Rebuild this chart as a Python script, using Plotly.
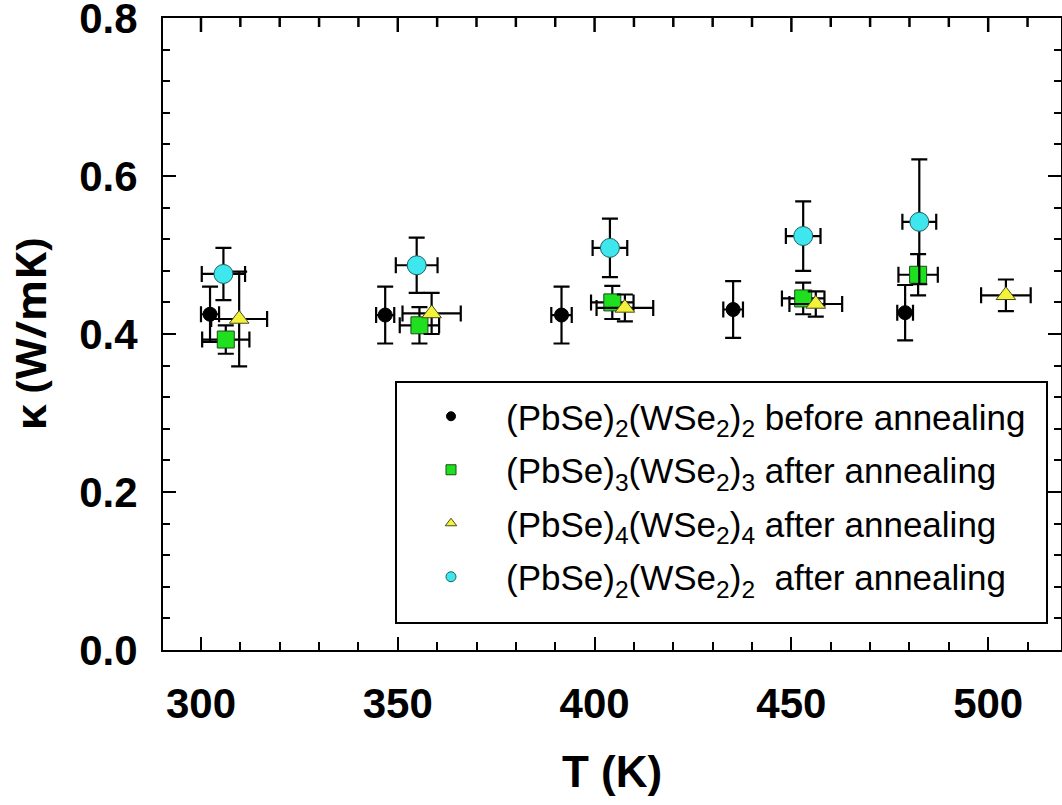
import plotly.graph_objects as go

# ---- data ----
black_T = [302.3, 346.8, 391.6, 435.2, 478.9]
black_k = [0.425, 0.424, 0.424, 0.431, 0.427]
black_dk = [0.035, 0.036, 0.036, 0.036, 0.035]
black_dT = [2.3, 2.3, 2.6, 2.5, 2.0]

green_T = [306.3, 355.5, 404.5, 453.0, 482.2]
green_k = [0.393, 0.411, 0.440, 0.445, 0.475]
green_dk = [0.018, 0.023, 0.021, 0.020, 0.026]
green_dT = [6.0, 5.0, 5.4, 5.4, 5.0]

yellow_T = [309.7, 358.6, 407.7, 456.2, 504.5]
yellow_k = [0.419, 0.426, 0.433, 0.438, 0.449]
yellow_dk = [0.060, 0.026, 0.017, 0.016, 0.020]
yellow_dT = [7.1, 7.4, 7.2, 6.7, 6.3]

cyan_T = [305.7, 354.8, 403.9, 453.0, 482.5]
cyan_k = [0.476, 0.487, 0.509, 0.524, 0.542]
cyan_dk = [0.033, 0.035, 0.037, 0.044, 0.079]
cyan_dT = [5.5, 5.3, 4.4, 4.4, 4.3]

names = [
    "(PbSe)<sub>2</sub>(WSe<sub>2</sub>)<sub>2</sub> before annealing",
    "(PbSe)<sub>3</sub>(WSe<sub>2</sub>)<sub>3</sub> after annealing",
    "(PbSe)<sub>4</sub>(WSe<sub>2</sub>)<sub>4</sub> after annealing",
    "(PbSe)<sub>2</sub>(WSe<sub>2</sub>)<sub>2</sub>  after annealing",
]
x_ticks = [300, 350, 400, 450, 500]
y_ticks = [0.0, 0.2, 0.4, 0.6, 0.8]
x_range = [290.35, 518.5]

series = [
    (black_T, black_k, black_dT, black_dk, "circle", 14, "#000000", "#000000"),
    (green_T, green_k, green_dT, green_dk, "square", 17, "#1ee01e", "#1a4a1a"),
    (yellow_T, yellow_k, yellow_dT, yellow_dk, "triangle-up", 17, "#f2f23a", "#4a4a20"),
    (cyan_T, cyan_k, cyan_dT, cyan_dk, "circle", 19, "#3ee6ee", "#206060"),
]
legend_sizes = [9, 10, 10, 10]

fig = go.Figure()
for i, (T, k, dT, dk, sym, sz, col, lcol) in enumerate(series):
    fig.add_trace(go.Scatter(
        x=T, y=k, mode="markers", showlegend=False,
        marker=dict(symbol=sym, size=sz, color=col, line=dict(color=lcol, width=1)),
        error_y=dict(type="data", array=dk, visible=True, color="black", thickness=2.2, width=8),
        error_x=dict(type="data", array=dT, visible=True, color="black", thickness=2.2, width=8),
    ))
for i, (T, k, dT, dk, sym, sz, col, lcol) in enumerate(series):
    fig.add_trace(go.Scatter(
        x=[None], y=[None], mode="markers", name=names[i], legendgroup=f"g{i}",
        marker=dict(symbol=sym, size=legend_sizes[i], color=col, line=dict(color=lcol, width=1)),
    ))

tickfont = dict(family="Liberation Sans, Arial", size=42, color="black", weight="bold")
axis_common = dict(
    showline=True, linecolor="black", linewidth=2,
    ticks="inside", ticklen=13, tickwidth=2, tickcolor="black",
    showgrid=False, zeroline=False, automargin=False,
    tickfont=tickfont, ticklabeloverflow="allow",
)

fig.update_layout(
    xaxis=dict(
        range=x_range, tickvals=x_ticks, ticktext=[str(v) for v in x_ticks],
        minor=dict(dtick=10, ticks="inside", ticklen=8, tickwidth=2, tickcolor="black", showgrid=False),
        title=dict(text="T (K)", font=dict(family="Liberation Sans, Arial", size=44, color="black", weight="bold"), standoff=30),
        ticklabelstandoff=16, mirror=True,
        **axis_common,
    ),
    yaxis=dict(
        range=[0, 0.8], tickvals=y_ticks, ticktext=[f"{v:.1f}" for v in y_ticks],
        minor=dict(dtick=0.04, ticks="inside", ticklen=7, tickwidth=2, tickcolor="black", showgrid=False),
        title=dict(text="κ (W/mK)", font=dict(family="Open Sans", size=42, color="black", weight="bold"), standoff=20),
        ticklabelstandoff=15, mirror="ticks",
        **axis_common,
    ),
)

# inward ticks along the top frame edge, placed through the x axis scale (pixel-sized)
top_minor = [v for v in range(300, 520, 10) if v not in x_ticks]
for v in x_ticks:
    fig.add_shape(type="line", xref="x", yref="paper", ysizemode="pixel", yanchor=1,
                  x0=v, x1=v, y0=0, y1=-14,
                  line=dict(color="black", width=2.5), layer="above")
for v in top_minor:
    fig.add_shape(type="line", xref="x", yref="paper", ysizemode="pixel", yanchor=1,
                  x0=v, x1=v, y0=0, y1=-9,
                  line=dict(color="black", width=2.5), layer="above")

# legend frame (paper coordinates)
fig.add_shape(
    type="rect", xref="paper", yref="paper",
    x0=(396 - 163) / 898, x1=(1047 - 163) / 898,
    y0=(650 - 623) / 632, y1=(650 - 382) / 632,
    line=dict(color="black", width=2), fillcolor="white", layer="above",
)

fig.update_layout(
    width=1062, height=805,
    margin=dict(l=163, r=1, t=18, b=155),
    paper_bgcolor="white", plot_bgcolor="white",
    legend=dict(
        x=(396 - 163) / 898, y=(650 - 387) / 632, xanchor="left", yanchor="top",
        bgcolor="rgba(0,0,0,0)", borderwidth=0,
        font=dict(family="Liberation Sans, Arial", size=35, color="black"),
        tracegroupgap=5, itemwidth=100,
    ),
)

fig.write_html("out.html")
